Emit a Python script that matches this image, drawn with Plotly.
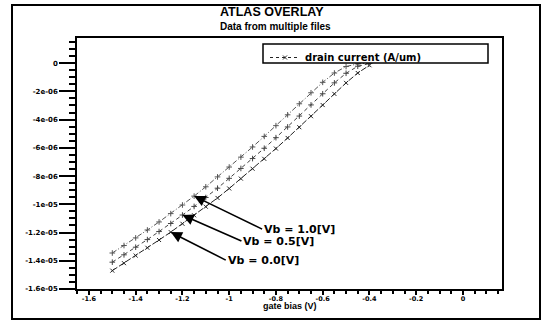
import plotly.graph_objects as go

# ---------------- data ----------------
gate_bias = [-1.5, -1.45, -1.4, -1.35, -1.3, -1.25, -1.2, -1.15, -1.1, -1.05, -1.0,
             -0.95, -0.9, -0.85, -0.8, -0.75, -0.7, -0.65, -0.6, -0.55, -0.5, -0.45, -0.4]

id_vb00 = [-14.70e-6, -14.17e-6, -13.63e-6, -13.08e-6, -12.53e-6, -11.97e-6, -11.38e-6,
           -10.78e-6, -10.17e-6, -9.55e-6, -8.88e-6, -8.18e-6, -7.48e-6, -6.78e-6,
           -6.05e-6, -5.30e-6, -4.54e-6, -3.76e-6, -2.97e-6, -2.18e-6, -1.40e-6,
           -0.70e-6, -0.15e-6]
id_vb05 = [-14.10e-6, -13.58e-6, -13.04e-6, -12.50e-6, -11.93e-6, -11.36e-6, -10.76e-6,
           -10.15e-6, -9.52e-6, -8.86e-6, -8.16e-6, -7.46e-6, -6.76e-6, -6.03e-6,
           -5.28e-6, -4.52e-6, -3.75e-6, -2.96e-6, -2.17e-6, -1.40e-6, -0.72e-6,
           -0.22e-6, -0.03e-6]
id_vb10 = [-13.45e-6, -12.92e-6, -12.38e-6, -11.82e-6, -11.25e-6, -10.66e-6, -10.05e-6,
           -9.42e-6, -8.76e-6, -8.06e-6, -7.36e-6, -6.66e-6, -5.94e-6, -5.19e-6,
           -4.43e-6, -3.66e-6, -2.88e-6, -2.10e-6, -1.36e-6, -0.70e-6, -0.24e-6,
           -0.05e-6, -0.01e-6]

x_tickvals = [-1.6, -1.4, -1.2, -1.0, -0.8, -0.6, -0.4, -0.2, 0.0]
x_ticktext = ["-1.6", "-1.4", "-1.2", "-1", "-0.8", "-0.6", "-0.4", "-0.2", "0"]
y_tickvals = [0, -2e-6, -4e-6, -6e-6, -8e-6, -1e-5, -1.2e-5, -1.4e-5, -1.6e-5]
y_ticktext = ["0", "-2e-06", "-4e-06", "-6e-06", "-8e-06", "-1e-05", "-1.2e-05", "-1.4e-05", "-1.6e-05"]

series_labels = ["Vb = 0.0[V]", "Vb = 0.5[V]", "Vb = 1.0[V]"]
arrow_index = [5, 6, 7]   # which data point each label arrow points at

# ---------------- figure ----------------
W, H = 545, 323
ML, MR, MT, MB = 77, 43, 38, 34
PW, PH = W - ML - MR, H - MT - MB

def px(xp):
    return (xp - ML) / PW

def py(yp):
    return (H - MB - yp) / PH

FONT = "Liberation Sans"
TICKFONT = "DejaVu Sans"
fig = go.Figure()

series = [id_vb00, id_vb05, id_vb10]
dashes = ["6px,2px", "4px,3px", "5px,2px,1px,2px"]
symbols = ["x-thin-open", "cross-thin-open", "cross-thin-open"]
colors = ["#222222", "#444444", "#555555"]
for ys, d, s, c, name in zip(series, dashes, symbols, colors, series_labels):
    fig.add_trace(go.Scatter(
        x=gate_bias, y=ys, mode="lines+markers", name=name, showlegend=False,
        line=dict(color=c, width=1, dash=d),
        marker=dict(symbol=s, size=4, line=dict(color=c, width=1)),
    ))

# legend entry
fig.add_trace(go.Scatter(
    x=[None], y=[None], mode="lines+markers", name="drain current (A/um)",
    line=dict(color="#222222", width=1, dash="dot"),
    marker=dict(symbol="x-thin-open", size=4, line=dict(color="#222222", width=1)),
))

# label arrows (offsets of the label from the arrow tip, in pixels)
tails = [(55, 28), (59, 26), (68, 33)]
for name, idx, series_y, (ax, ay) in zip(series_labels, arrow_index, series, tails):
    fig.add_annotation(
        x=gate_bias[idx], y=series_y[idx], xref="x", yref="y",
        ax=ax, ay=ay, axref="pixel", ayref="pixel",
        text=name, showarrow=True, arrowhead=2, arrowsize=1.4, arrowwidth=1.6,
        arrowcolor="black", xanchor="left", yanchor="middle",
        font=dict(family="DejaVu Sans", size=11, color="black", weight="bold"),
    )

# titles
fig.add_annotation(x=px(272), y=py(12), xref="paper", yref="paper", showarrow=False,
                   text="ATLAS OVERLAY", xanchor="center", yanchor="middle",
                   font=dict(family=FONT, size=12.5, color="black", weight="bold"))
fig.add_annotation(x=px(275), y=py(26), xref="paper", yref="paper", showarrow=False,
                   text="Data from multiple files", xanchor="center", yanchor="middle",
                   font=dict(family=FONT, size=10, color="black", weight="bold"))
fig.add_annotation(x=px(290), y=py(306), xref="paper", yref="paper", showarrow=False,
                   text="gate bias (V)", xanchor="center", yanchor="middle",
                   font=dict(family=FONT, size=9, color="black", weight="bold"))

# outer frame and legend box
fig.add_shape(type="rect", xref="paper", yref="paper",
              x0=px(12), x1=px(540), y0=py(319), y1=py(5),
              line=dict(color="black", width=2), layer="below")
fig.add_shape(type="rect", xref="paper", yref="paper",
              x0=px(263), x1=px(488), y0=py(63), y1=py(44),
              line=dict(color="black", width=1.5), fillcolor="white", layer="above")

fig.update_layout(
    width=W, height=H, margin=dict(l=ML, r=MR, t=MT, b=MB),
    paper_bgcolor="white", plot_bgcolor="white",
    font=dict(family=FONT, size=7, color="black"),
    showlegend=True,
    legend=dict(x=px(265), y=py(43), xanchor="left", yanchor="top",
                bgcolor="rgba(0,0,0,0)", borderwidth=0,
                font=dict(family="DejaVu Sans", size=10, color="black", weight="bold"),
                itemwidth=30),
    xaxis=dict(range=[-1.651, 0.167], tickvals=x_tickvals, ticktext=x_ticktext,
               showgrid=False, zeroline=False, showline=True, linecolor="black",
               linewidth=1.5, mirror=True, ticks="outside", ticklen=4, tickwidth=1.5,
               tickcolor="black", ticklabelstandoff=-2,
               tickfont=dict(family=TICKFONT, size=6.5, color="black", weight="bold"),
               minor=dict(dtick=0.05, tick0=0, ticks="outside", ticklen=3,
                          tickwidth=1.5, tickcolor="black", showgrid=False)),
    yaxis=dict(range=[-1.6e-5, 1.78e-6], tickvals=y_tickvals, ticktext=y_ticktext,
               showgrid=False, zeroline=False, showline=True, linecolor="black",
               linewidth=1.5, mirror=True, ticks="outside", ticklen=16, tickwidth=1.5,
               tickcolor="black",
               tickfont=dict(family=TICKFONT, size=7, color="black", weight="bold"),
               minor=dict(dtick=5e-7, tick0=0, ticks="outside", ticklen=6,
                          tickwidth=1.5, tickcolor="black", showgrid=False)),
)

fig.write_html("out.html", config={"displayModeBar": False},
               post_script="document.body.style.margin='0';")
